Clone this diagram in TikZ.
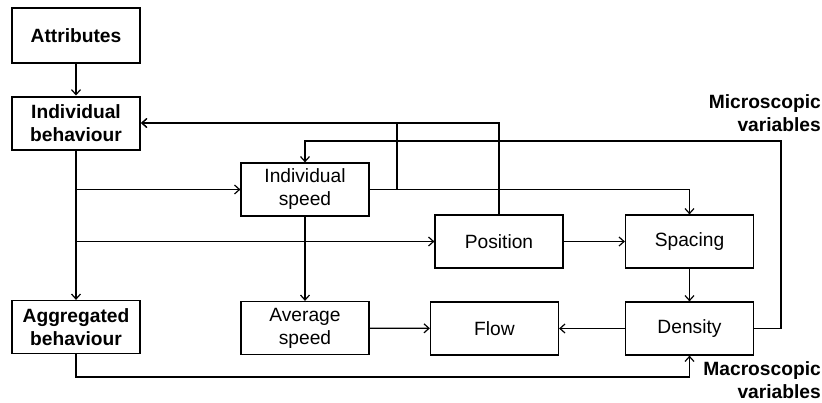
\documentclass[tikz,border=0pt]{standalone}
\usepackage{fontspec}
\setmainfont{Liberation Sans}
\usetikzlibrary{arrows.meta}

\tikzset{
    box/.style={draw, line width=1.2pt, minimum width=128pt, minimum height=53pt,
        inner sep=0pt, align=center, font=\fontsize{19.2}{23}\selectfont},
    keybox/.style={box, line width=2pt, font=\fontsize{19.2}{23}\selectfont\bfseries},
    heading/.style={align=right, anchor=north east, inner sep=0pt,
        font=\fontsize{19.2}{23}\selectfont\bfseries},
    link/.style={->, line width=1.2pt},
}

\begin{document}
\begin{tikzpicture}[x=1pt, y=-1pt, >={Straight Barb[length=5pt, width=9pt]}]
    \useasboundingbox (0,0) rectangle (822,402);

    % Left column
    \node[keybox, minimum height=55pt] (attr) at (76,35.5) {Attributes};
    \node[keybox] (indb) at (76,123) {Individual\\behaviour};
    \node[box, font=\fontsize{19.2}{23}\selectfont\bfseries] (aggb) at (76,327) {Aggregated\\behaviour};

    % Variables
    \node[box] (ispeed) at (305,189.5) {Individual\\speed};
    \node[box] (aspeed) at (305,328) {Average\\speed};
    \node[box] (pos) at (499,241.5) {Position};
    \node[box] (spac) at (689.5,241.5) {Spacing};
    \node[box] (flow) at (494.5,328.5) {Flow};
    \node[box] (dens) at (689.5,328.5) {Density};

    % Headings
    \node[heading] (micro) at (821,94) {Microscopic\\variables};
    \node[heading] (macro) at (821,361) {Macroscopic\\variables};

    % Turning points
    \coordinate (fbturn) at (397,123);
    \coordinate (loopright) at (781,141);
    \coordinate (aggdown) at (76,377);

    % Connectors
    \draw[link] (attr) -- (indb);
    \draw[link] (indb) -- (aggb);
    \draw[link] (indb.south |- ispeed.west) -- (ispeed.west);
    \draw[link] (indb.south |- pos.west) -- (pos.west);
    \draw[link] (ispeed.east) -| (spac.north);
    \draw[link] (ispeed.east) -| (fbturn) -- (indb.east);
    \draw[link] (pos.north) |- (indb.east);
    \draw[link] (ispeed) -- (aspeed);
    \draw[link] (aspeed) -- (flow);
    \draw[link] (dens) -- (flow);
    \draw[link] (pos) -- (spac);
    \draw[link] (spac) -- (dens);
    \draw[link] (dens.east) -| (loopright) -| (ispeed.north);
    \draw[link] (aggb.south) -- (aggdown) -| (dens.south);
\end{tikzpicture}
\end{document}
